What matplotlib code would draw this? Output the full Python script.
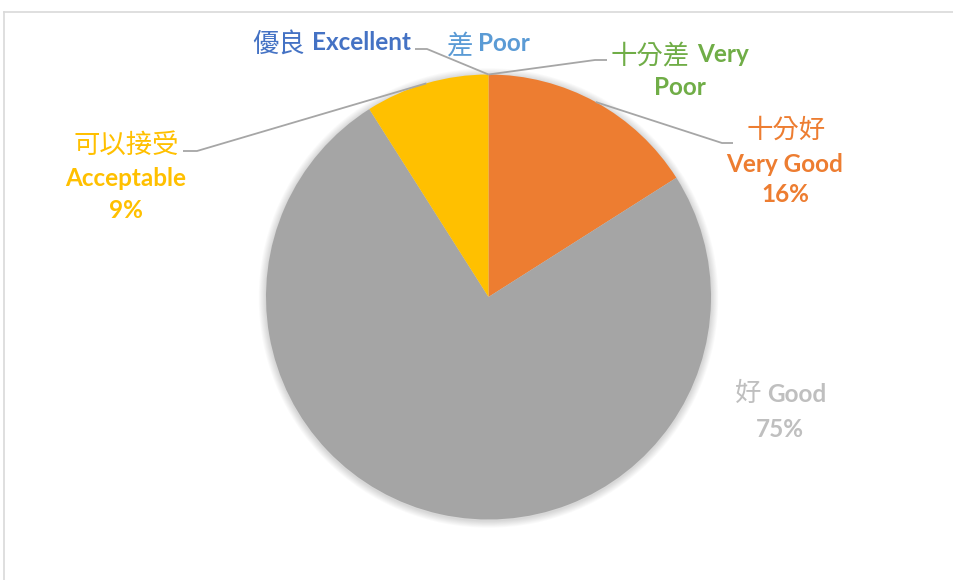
import matplotlib
matplotlib.use('Agg')
import matplotlib.pyplot as plt
import numpy as np
from matplotlib.patches import Circle
from matplotlib.lines import Line2D

# ---- data ----
zh_names = ['十分好', '好', '可以接受', '優良', '差', '十分差']
en_names = ['Very Good', 'Good', 'Acceptable', 'Excellent', 'Poor', 'Very Poor']
values = [16, 75, 9, 0, 0, 0]
colors = ['#ED7D31', '#A5A5A5', '#FFC000', '#4472C4', '#5B9BD5', '#70AD47']
label_colors = ['#ED7D31', '#BFBFBF', '#FFC000', '#4472C4', '#5B9BD5', '#70AD47']

W, H = 954, 580
fig = plt.figure(figsize=(9.54, 5.8), dpi=100)
ax = fig.add_axes([0, 0, 1, 1])

cx, cy, R = 488.5, H - 297, 222.5

# soft shadow
for i in range(8):
    ax.add_patch(Circle((cx, cy - 1), R + 1 + i * 0.9, color='black',
                        alpha=0.018, lw=0, zorder=1))

wedges, _ = ax.pie(values, colors=colors, startangle=90, counterclock=False,
                   center=(cx, cy), radius=R, frame=True,
                   wedgeprops=dict(linewidth=0, zorder=2))
ax.set_xlim(0, W)
ax.set_ylim(0, H)
ax.set_aspect('auto')
ax.axis('off')

ZH = dict(family=['Noto Sans CJK TC', 'DejaVu Sans'], size=19, weight='normal')
EN = dict(family=['Lato', 'DejaVu Sans'], size=17.5, weight='bold')

total = sum(values)
pct = [f"{v / total * 100:.0f}%" for v in values]

def T(x, yp, s, props, color, ha):
    ax.text(x, H - yp, s, color=color, ha=ha, va='baseline', zorder=5, **props)

# Very Good
T(786, 138, zh_names[0], ZH, label_colors[0], 'center')
T(785, 172, en_names[0], EN, label_colors[0], 'center')
T(785, 202, pct[0], EN, label_colors[0], 'center')
# Good
T(761, 401, zh_names[1], ZH, label_colors[1], 'right')
T(767, 402, en_names[1], EN, label_colors[1], 'left')
T(780, 437, pct[1], EN, label_colors[1], 'center')
# Acceptable
T(126, 153, zh_names[2], ZH, label_colors[2], 'center')
T(126, 186, en_names[2], EN, label_colors[2], 'center')
T(126, 218, pct[2], EN, label_colors[2], 'center')
# Excellent
T(305, 52, zh_names[3], ZH, label_colors[3], 'right')
T(312, 50, en_names[3], EN, label_colors[3], 'left')
# Poor
T(473, 53, zh_names[4], ZH, label_colors[4], 'right')
T(478, 51, en_names[4], EN, label_colors[4], 'left')
# Very Poor
vp = en_names[5].split(' ')
T(690, 63, zh_names[5], ZH, label_colors[5], 'right')
T(697, 62, vp[0], EN, label_colors[5], 'left')
T(680, 95, vp[1], EN, label_colors[5], 'center')

# leader lines (anchored at wedge mid-angles)
def anchor(i):
    w = wedges[i]
    th = np.deg2rad((w.theta1 + w.theta2) / 2)
    return cx + R * np.cos(th), cy + R * np.sin(th)

leaders = {0: [(722, 143), (733, 143)],
           2: [(197, 151), (183, 151)],
           3: [(427, 49), (415, 49)],
           5: [(595, 60), (607, 60)]}
for i, pts in leaders.items():
    ax0, ay0 = anchor(i)
    xs = [ax0] + [p[0] for p in pts]
    ys = [ay0] + [H - p[1] for p in pts]
    ax.plot(xs, ys, color='#A6A6A6', lw=1.3, zorder=4, solid_capstyle='butt')

# chart border
fig.add_artist(Line2D([4 / W, 1], [1 - 12 / H, 1 - 12 / H], color='#D9D9D9', lw=1.2))
fig.add_artist(Line2D([4 / W, 4 / W], [0, 1 - 12 / H], color='#D9D9D9', lw=1.2))

fig.savefig('out.png', dpi=100, facecolor='white')
